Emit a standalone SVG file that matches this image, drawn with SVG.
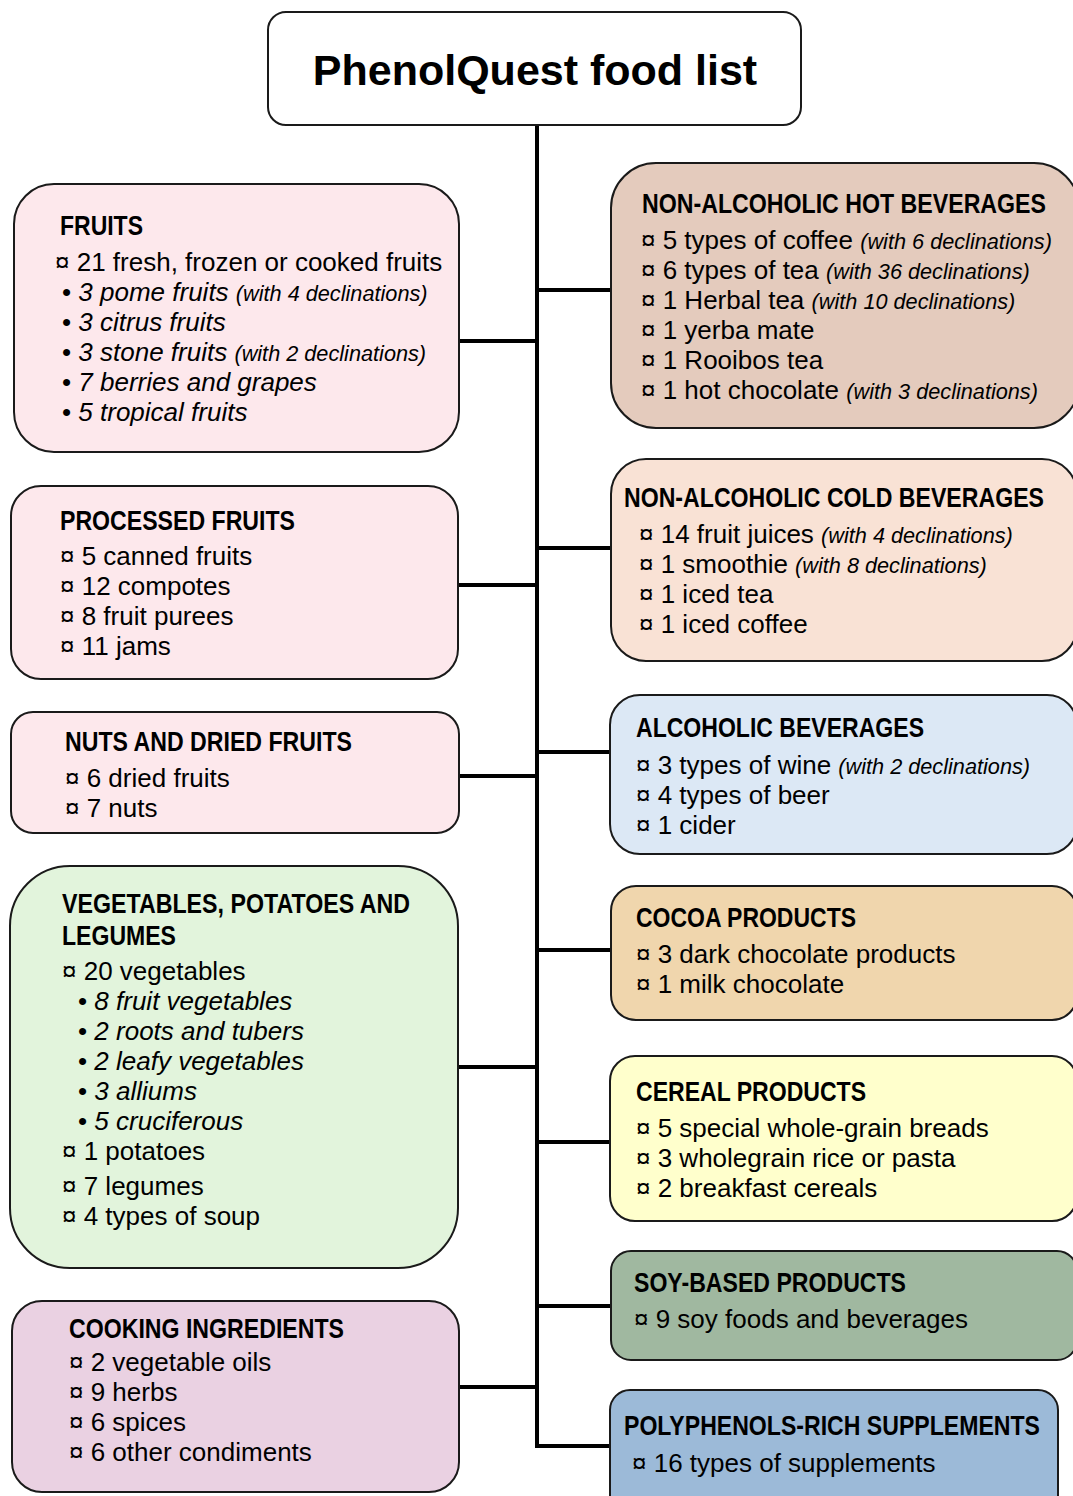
<svg xmlns="http://www.w3.org/2000/svg" width="1073" height="1496" viewBox="0 0 1073 1496">
<style>
.box{stroke:#1a1a1a;stroke-width:2}
.t{font-family:"Liberation Sans",Arial,sans-serif;font-size:26px;fill:#000}
.h{font-family:"Liberation Sans",Arial,sans-serif;font-size:28px;font-weight:bold;fill:#000}
.i{font-style:italic}
.s{font-size:21.7px;font-style:italic}
.title{font-family:"Liberation Sans",Arial,sans-serif;font-size:43px;font-weight:bold;fill:#000}
.c{stroke:#000;stroke-width:4;fill:none}
</style>
<rect width="1073" height="1496" fill="#fff"/>
<g id="connectors">
<line class="c" x1="537" y1="125" x2="537" y2="1448"/>
<line class="c" x1="459" y1="341" x2="537" y2="341"/>
<line class="c" x1="458" y1="585" x2="537" y2="585"/>
<line class="c" x1="459" y1="776" x2="537" y2="776"/>
<line class="c" x1="458" y1="1067" x2="537" y2="1067"/>
<line class="c" x1="459" y1="1387" x2="537" y2="1387"/>
<line class="c" x1="537" y1="290" x2="611" y2="290"/>
<line class="c" x1="537" y1="548" x2="611" y2="548"/>
<line class="c" x1="537" y1="752" x2="610" y2="752"/>
<line class="c" x1="537" y1="950" x2="611" y2="950"/>
<line class="c" x1="537" y1="1142" x2="610" y2="1142"/>
<line class="c" x1="537" y1="1306" x2="611" y2="1306"/>
<line class="c" x1="535" y1="1446" x2="610" y2="1446"/>
</g>
<g id="title">
<rect class="box" x="268" y="12" width="533" height="113" rx="18" fill="#fff"/>
<text class="title" x="535" y="85" text-anchor="middle">PhenolQuest food list</text>
</g>
<g id="fruits">
<rect class="box" x="14" y="184" width="445" height="268" rx="40" fill="#fde8ec"/>
<text class="h" x="60" y="235" textLength="83" lengthAdjust="spacingAndGlyphs">FRUITS</text>
<text class="t" x="55" y="271">¤ 21 fresh, frozen or cooked fruits</text>
<text class="t" x="62" y="301">• <tspan class="i">3 pome fruits </tspan><tspan class="s">(with 4 declinations)</tspan></text>
<text class="t" x="62" y="331">• <tspan class="i">3 citrus fruits</tspan></text>
<text class="t" x="62" y="361">• <tspan class="i">3 stone fruits </tspan><tspan class="s">(with 2 declinations)</tspan></text>
<text class="t" x="62" y="391">• <tspan class="i">7 berries and grapes</tspan></text>
<text class="t" x="62" y="421">• <tspan class="i">5 tropical fruits</tspan></text>
</g>
<g id="processed-fruits">
<rect class="box" x="11" y="486" width="447" height="193" rx="30" fill="#fde8ec"/>
<text class="h" x="60" y="530" textLength="235" lengthAdjust="spacingAndGlyphs">PROCESSED FRUITS</text>
<text class="t" x="60" y="565">¤ 5 canned fruits</text>
<text class="t" x="60" y="595">¤ 12 compotes</text>
<text class="t" x="60" y="625">¤ 8 fruit purees</text>
<text class="t" x="60" y="655">¤ 11 jams</text>
</g>
<g id="nuts">
<rect class="box" x="11" y="712" width="448" height="121" rx="22" fill="#fde8ec"/>
<text class="h" x="65" y="751" textLength="287" lengthAdjust="spacingAndGlyphs">NUTS AND DRIED FRUITS</text>
<text class="t" x="65" y="787">¤ 6 dried fruits</text>
<text class="t" x="65" y="817">¤ 7 nuts</text>
</g>
<g id="vegetables">
<rect class="box" x="10" y="866" width="448" height="402" rx="60" fill="#e2f4dc"/>
<text class="h" x="62" y="913" textLength="348" lengthAdjust="spacingAndGlyphs">VEGETABLES, POTATOES AND</text>
<text class="h" x="62" y="945" textLength="114" lengthAdjust="spacingAndGlyphs">LEGUMES</text>
<text class="t" x="62" y="980">¤ 20 vegetables</text>
<text class="t" x="78" y="1010">• <tspan class="i">8 fruit vegetables</tspan></text>
<text class="t" x="78" y="1040">• <tspan class="i">2 roots and tubers</tspan></text>
<text class="t" x="78" y="1070">• <tspan class="i">2 leafy vegetables</tspan></text>
<text class="t" x="78" y="1100">• <tspan class="i">3 alliums</tspan></text>
<text class="t" x="78" y="1130">• <tspan class="i">5 cruciferous</tspan></text>
<text class="t" x="62" y="1160">¤ 1 potatoes</text>
<text class="t" x="62" y="1195">¤ 7 legumes</text>
<text class="t" x="62" y="1225">¤ 4 types of soup</text>
</g>
<g id="cooking">
<rect class="box" x="12" y="1301" width="447" height="191" rx="30" fill="#ead1e2"/>
<text class="h" x="69" y="1338" textLength="275" lengthAdjust="spacingAndGlyphs">COOKING INGREDIENTS</text>
<text class="t" x="69" y="1371">¤ 2 vegetable oils</text>
<text class="t" x="69" y="1401">¤ 9 herbs</text>
<text class="t" x="69" y="1431">¤ 6 spices</text>
<text class="t" x="69" y="1461">¤ 6 other condiments</text>
</g>
<g id="hot-beverages">
<rect class="box" x="611" y="163" width="468" height="265" rx="45" fill="#e4cbbd"/>
<text class="h" x="642" y="213" textLength="404" lengthAdjust="spacingAndGlyphs">NON-ALCOHOLIC HOT BEVERAGES</text>
<text class="t" x="641" y="249">¤ 5 types of coffee <tspan class="s">(with 6 declinations)</tspan></text>
<text class="t" x="641" y="279">¤ 6 types of tea <tspan class="s">(with 36 declinations)</tspan></text>
<text class="t" x="641" y="309">¤ 1 Herbal tea <tspan class="s">(with 10 declinations)</tspan></text>
<text class="t" x="641" y="339">¤ 1 yerba mate</text>
<text class="t" x="641" y="369">¤ 1 Rooibos tea</text>
<text class="t" x="641" y="399">¤ 1 hot chocolate <tspan class="s">(with 3 declinations)</tspan></text>
</g>
<g id="cold-beverages">
<rect class="box" x="611" y="459" width="466" height="202" rx="35" fill="#f9e2d5"/>
<text class="h" x="624" y="507" textLength="420" lengthAdjust="spacingAndGlyphs">NON-ALCOHOLIC COLD BEVERAGES</text>
<text class="t" x="639" y="543">¤ 14 fruit juices <tspan class="s">(with 4 declinations)</tspan></text>
<text class="t" x="639" y="573">¤ 1 smoothie <tspan class="s">(with 8 declinations)</tspan></text>
<text class="t" x="639" y="603">¤ 1 iced tea</text>
<text class="t" x="639" y="633">¤ 1 iced coffee</text>
</g>
<g id="alcoholic-beverages">
<rect class="box" x="610" y="695" width="467" height="159" rx="30" fill="#dce8f5"/>
<text class="h" x="636" y="737" textLength="288" lengthAdjust="spacingAndGlyphs">ALCOHOLIC BEVERAGES</text>
<text class="t" x="636" y="774">¤ 3 types of wine <tspan class="s">(with 2 declinations)</tspan></text>
<text class="t" x="636" y="804">¤ 4 types of beer</text>
<text class="t" x="636" y="834">¤ 1 cider</text>
</g>
<g id="cocoa">
<rect class="box" x="611" y="886" width="466" height="134" rx="25" fill="#f0d6ad"/>
<text class="h" x="636" y="927" textLength="220" lengthAdjust="spacingAndGlyphs">COCOA PRODUCTS</text>
<text class="t" x="636" y="963">¤ 3 dark chocolate products</text>
<text class="t" x="636" y="993">¤ 1 milk chocolate</text>
</g>
<g id="cereal">
<rect class="box" x="610" y="1056" width="467" height="165" rx="25" fill="#ffffcc"/>
<text class="h" x="636" y="1101" textLength="230" lengthAdjust="spacingAndGlyphs">CEREAL PRODUCTS</text>
<text class="t" x="636" y="1137">¤ 5 special whole-grain breads</text>
<text class="t" x="636" y="1167">¤ 3 wholegrain rice or pasta</text>
<text class="t" x="636" y="1197">¤ 2 breakfast cereals</text>
</g>
<g id="soy">
<rect class="box" x="611" y="1251" width="466" height="109" rx="20" fill="#a0b8a0"/>
<text class="h" x="634" y="1292" textLength="272" lengthAdjust="spacingAndGlyphs">SOY-BASED PRODUCTS</text>
<text class="t" x="634" y="1328">¤ 9 soy foods and beverages</text>
</g>
<g id="supplements">
<rect class="box" x="610" y="1390" width="448" height="130" rx="20" fill="#9cbad8"/>
<text class="h" x="624" y="1435" textLength="416" lengthAdjust="spacingAndGlyphs">POLYPHENOLS-RICH SUPPLEMENTS</text>
<text class="t" x="632" y="1472">¤ 16 types of supplements</text>
</g>
</svg>
